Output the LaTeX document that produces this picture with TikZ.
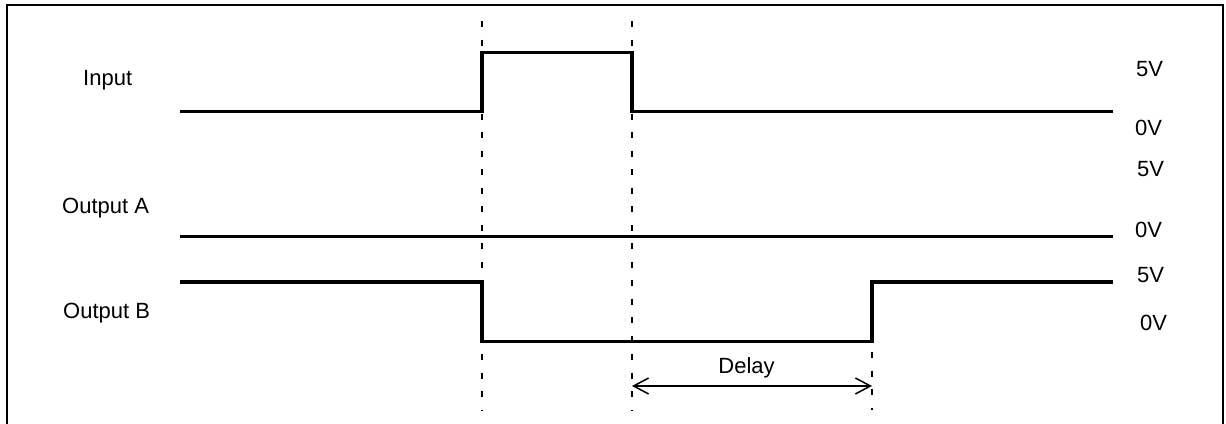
\documentclass[tikz,border=0pt]{standalone}
\usepackage{fontspec}
\setmainfont{Liberation Sans}
\usetikzlibrary{arrows.meta}
\begin{document}
\begin{tikzpicture}[x=1pt,y=-1pt,
  sig/.style={line width=3.5pt,line cap=butt,line join=miter},
  guide/.style={line width=2pt,dash pattern=on 6pt off 12.5pt},
  frame/.style={line width=2.5pt},
  lbl/.style={inner sep=0pt,anchor=base west,font=\fontsize{22}{26}\selectfont},
  dim/.style={line width=1.5pt,{Straight Barb[length=15pt,width=16pt]}-{Straight Barb[length=15pt,width=16pt]}}]
\useasboundingbox (0,0) rectangle (1226,423);
% frame (open at bottom)
\draw[frame] (7,424) -- (7,5) -- (1223,5) -- (1223,424);
% guide coordinates
\coordinate (g1t) at (482,21);
\coordinate (g1b) at (482,410);
\coordinate (g2t) at (632,21);
\coordinate (g2b) at (632,410);
\coordinate (g3t) at (872,352);
\coordinate (g3b) at (872,410);
\draw[guide] (g1t) -- (g1b);
\draw[guide] (g2t) -- (g2b);
\draw[guide] (g3t) -- (g3b);
% Input signal
\draw[sig] (180,111.3) -- (482,111.3) -- (482,52.5) -- (632,52.5) -- (632,111.3) -- (1113,111.3);
% Output A
\draw[sig] (180,236.5) -- (1113,236.5);
% Output B
\draw[sig] (180,282) -- (482,282) -- (482,341.5) -- (872,341.5) -- (872,282) -- (1113,282);
% labels
\node[lbl] (lin) at (83,85) {Input};
\node[lbl] (loa) at (62,213) {Output A};
\node[lbl] (lob) at (63,318) {Output B};
\node[lbl] (v1) at (1136,76) {5V};
\node[lbl] (v2) at (1135,135) {0V};
\node[lbl] (v3) at (1137,176) {5V};
\node[lbl] (v4) at (1135,237) {0V};
\node[lbl] (v5) at (1137,282) {5V};
\node[lbl] (v6) at (1140,330) {0V};
% delay
\coordinate (d1) at (632,386);
\coordinate (d2) at (872,386);
\draw[dim] (d1) -- (d2);
\node[lbl,anchor=base] (delay) at (746.5,373) {Delay};
\end{tikzpicture}
\end{document}
